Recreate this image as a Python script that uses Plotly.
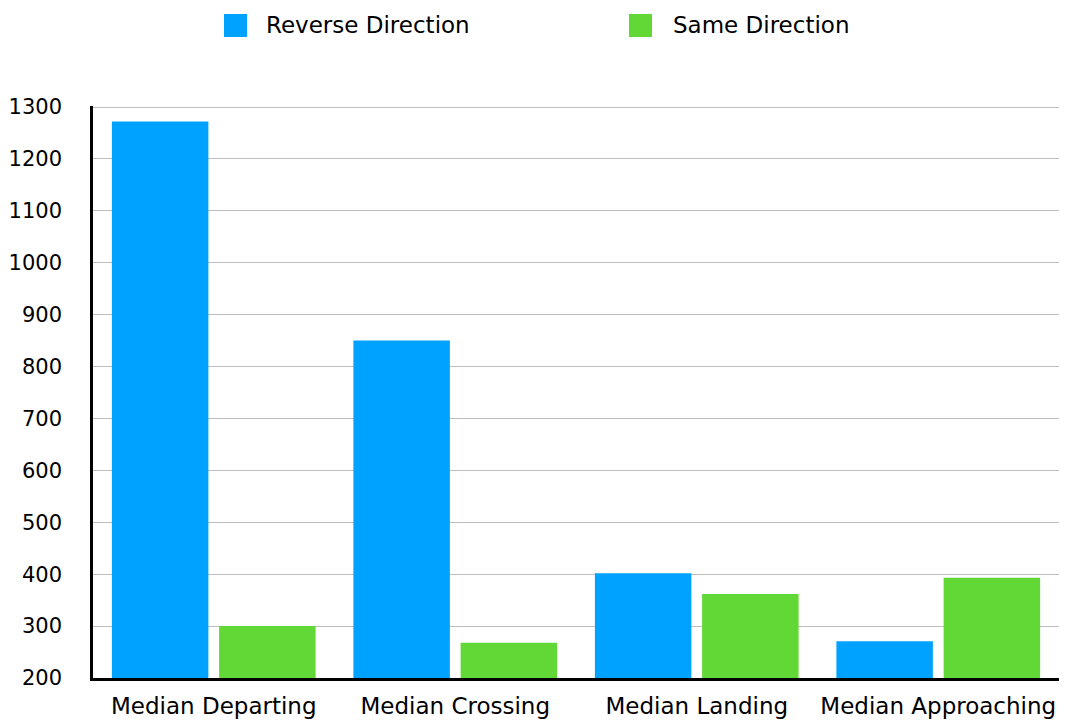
import plotly.graph_objects as go

categories = ["Median Departing", "Median Crossing", "Median Landing", "Median Approaching"]
reverse_direction = [1272, 850, 402, 271]
same_direction = [300, 268, 362, 393]
series_names = ["Reverse Direction", "Same Direction"]
y_ticks = list(range(200, 1301, 100))

BLUE = "#00A2FF"
GREEN = "#61D836"
FONT = "DejaVu Sans"

fig = go.Figure()
fig.add_trace(go.Bar(x=categories, y=reverse_direction, name=series_names[0],
                     marker=dict(color=BLUE, line=dict(width=0))))
fig.add_trace(go.Bar(x=categories, y=same_direction, name=series_names[1],
                     marker=dict(color=GREEN, line=dict(width=0))))

W, H = 1070, 726
L, R, T, B = 93, 11, 106, 48
pw = W - L - R
ph = H - T - B


def px_x(x):
    return (x - L) / pw


def px_y(y):
    return 1 - (y - T) / ph


# Custom legend drawn above the plot area
shapes = []
annotations = []
for (x0, tx), name, color in zip([(224, 264), (629, 671)], series_names, [BLUE, GREEN]):
    shapes.append(dict(type="rect", xref="paper", yref="paper",
                       x0=px_x(x0), x1=px_x(x0 + 23), y0=px_y(37), y1=px_y(14),
                       fillcolor=color, line=dict(width=0)))
    annotations.append(dict(xref="paper", yref="paper", x=px_x(tx), y=px_y(25),
                            xanchor="left", yanchor="middle", text=name, showarrow=False,
                            font=dict(family=FONT, size=23, color="#000000")))

fig.update_layout(
    width=W, height=H,
    margin=dict(l=L, r=R, t=T, b=B, pad=0, autoexpand=False),
    paper_bgcolor="white", plot_bgcolor="white",
    barmode="group", bargap=0.112, bargroupgap=0.1,
    showlegend=False,
    shapes=shapes, annotations=annotations,
    font=dict(family=FONT, color="#000000"),
)
fig.update_xaxes(
    automargin=False,
    showline=True, linecolor="#000000", linewidth=2.5,
    showgrid=False, ticks="", tickfont=dict(size=23, family=FONT),
    ticklabelstandoff=6,
)
fig.update_yaxes(
    automargin=False,
    range=[200, 1302], tickvals=y_ticks, ticktext=[str(v) for v in y_ticks],
    showline=True, linecolor="#000000", linewidth=2.5,
    showgrid=True, gridcolor="#BDBDBD", gridwidth=1.2,
    zeroline=False, ticks="", tickfont=dict(size=21, family=FONT),
    ticklabelstandoff=24,
)

fig.write_html("out.html")
